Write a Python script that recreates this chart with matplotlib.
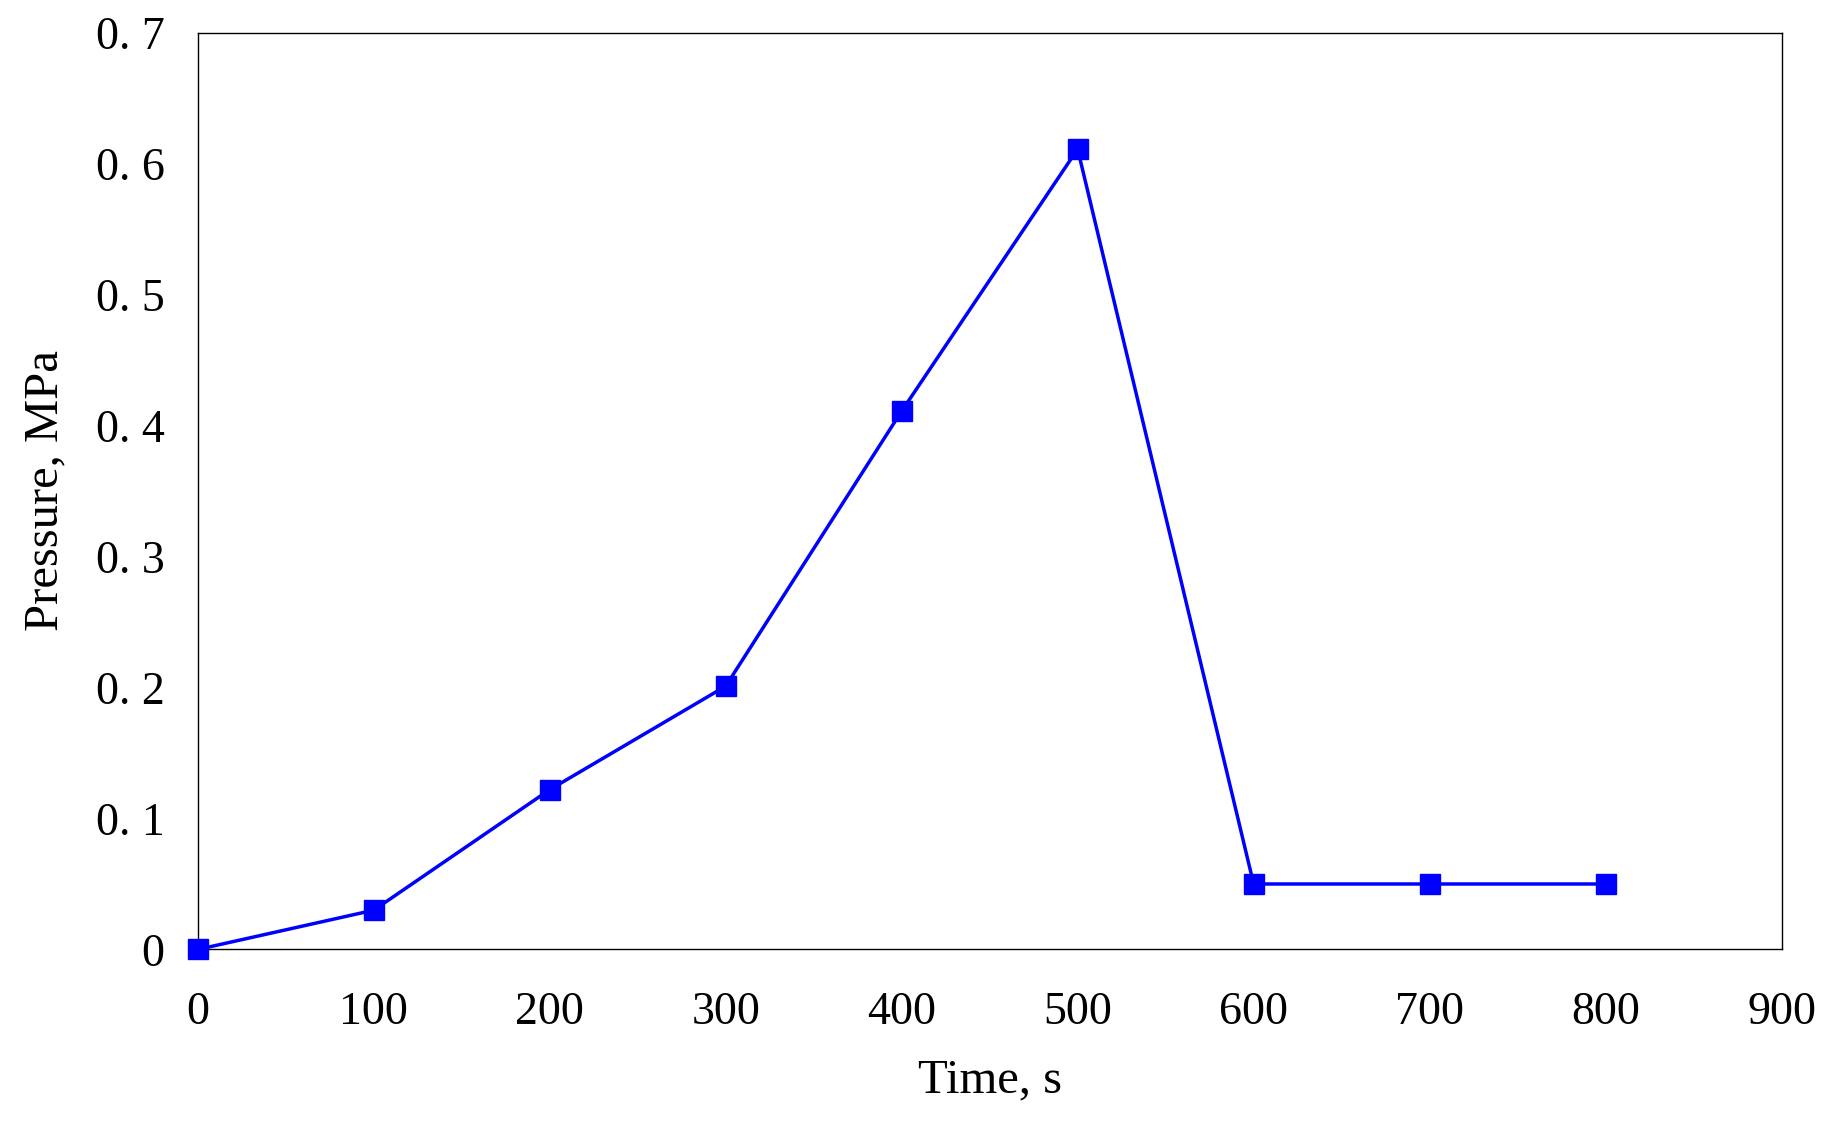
import matplotlib.pyplot as plt

time_s = [0, 100, 200, 300, 400, 500, 600, 700, 800]
pressure = [0, 0.03, 0.122, 0.201, 0.411, 0.611, 0.05, 0.05, 0.05]

plt.rcParams['font.family'] = ['Liberation Serif', 'DejaVu Serif']

fig = plt.figure(figsize=(18.31, 11.21), dpi=100)
ax = fig.add_axes([0.108, 0.153, 0.865, 0.818])
ax.plot(time_s, pressure, color='#0000ff', lw=2.5, marker='s', markersize=14,
        clip_on=False, zorder=3)
ax.set_xlim(0, 900)
ax.set_ylim(0, 0.7)
ax.set_xticks(range(0, 901, 100))
ax.set_yticks([i / 10 for i in range(8)])
ax.set_yticklabels(['0'] + ['0. %d' % i for i in range(1, 8)])
ax.tick_params(labelsize=33, direction='out', length=0)
ax.tick_params(axis='x', pad=30)
ax.tick_params(axis='y', pad=24)
ax.set_xlabel('Time, s', fontsize=35, labelpad=18)
ax.set_ylabel('Pressure, MPa', fontsize=35, labelpad=20)
for s in ax.spines.values():
    s.set_linewidth(1)
plt.savefig('out.png')
